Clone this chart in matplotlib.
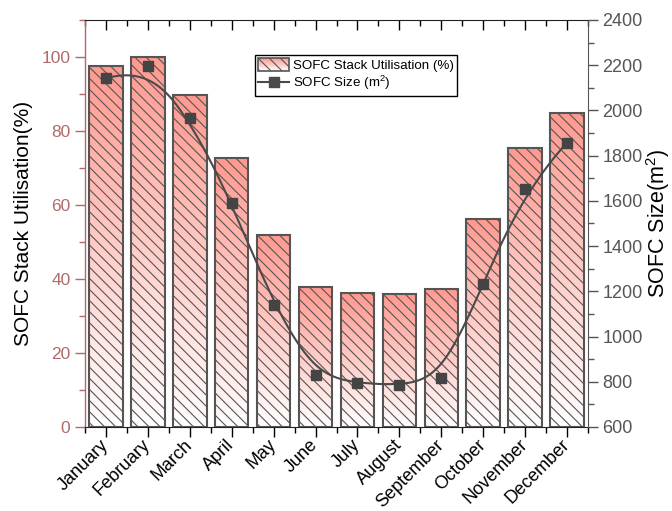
import numpy as np
import matplotlib
matplotlib.use("Agg")
import matplotlib.pyplot as plt
import matplotlib.transforms as mtransforms
from matplotlib.patches import Rectangle
from matplotlib.lines import Line2D
from matplotlib.legend_handler import HandlerBase
from matplotlib.ticker import MultipleLocator

plt.rcParams['font.family'] = ['Liberation Sans', 'DejaVu Sans']
plt.rcParams['hatch.linewidth'] = 0.8
plt.rcParams['mathtext.fontset'] = 'custom'
plt.rcParams['mathtext.rm'] = 'Liberation Sans'

months = ['January', 'February', 'March', 'April', 'May', 'June', 'July',
          'August', 'September', 'October', 'November', 'December']
utilisation = [97.6, 100.0, 89.8, 72.7, 51.9, 37.7, 36.2, 35.9, 37.3, 56.2, 75.3, 84.8]
sofc_size = [2142, 2195, 1968, 1590, 1139, 830, 794, 784, 817, 1232, 1652, 1858]

TOP_COL = np.array([1.0, 0.60, 0.56])
EDGE = '#555555'
AXIS_RED = '#b06a6a'
GREY = '#555555'


def bspline(ctrl, n_out=400, k=3):
    # clamped cubic B-spline using the data points as control points
    ctrl = np.asarray(ctrl, dtype=float)
    n = len(ctrl)
    knots = np.concatenate([np.zeros(k + 1), np.arange(1, n - k),
                            np.full(k + 1, n - k)]).astype(float)
    t = np.linspace(0, n - k, n_out)
    t[-1] -= 1e-9

    def basis(i, p, t):
        if p == 0:
            return ((knots[i] <= t) & (t < knots[i + 1])).astype(float)
        d1 = knots[i + p] - knots[i]
        d2 = knots[i + p + 1] - knots[i + 1]
        a = (t - knots[i]) / d1 * basis(i, p - 1, t) if d1 > 0 else 0
        b = (knots[i + p + 1] - t) / d2 * basis(i + 1, p - 1, t) if d2 > 0 else 0
        return a + b

    B = np.array([basis(i, k, t) for i in range(n)])
    return B.T @ ctrl


def gradient_img(n=256):
    f = np.linspace(0, 1, n)[:, None]  # 0 bottom, 1 top
    rgb = (1 - f) * np.ones(3) + f * TOP_COL
    return rgb[:, None, :]


class GradHandler(HandlerBase):
    def create_artists(self, legend, orig_handle, xdescent, ydescent,
                       width, height, fontsize, trans):
        arts = []
        nstep = 14
        for j in range(nstep):
            f = (j + 0.5) / nstep
            col = (1 - f) * np.ones(3) + f * TOP_COL
            arts.append(Rectangle((-xdescent, -ydescent + height * j / nstep),
                                  width, height / nstep + 0.3, facecolor=col,
                                  edgecolor='none', transform=trans))
        arts.append(Rectangle((-xdescent, -ydescent), width, height, fill=False,
                              hatch='\\\\\\', edgecolor=EDGE, lw=1.2,
                              transform=trans))
        return arts


fig = plt.figure(figsize=(6.72, 5.11), dpi=100)
ax = fig.add_axes([0.1265, 0.1644, 0.7485, 0.7965])
ax2 = ax.twinx()

x = np.arange(len(months))
width = 0.8
bars = ax.bar(x, utilisation, width, facecolor='none', edgecolor=EDGE,
              lw=1.5, hatch='\\\\\\', zorder=3)
img = gradient_img()
for b in bars:
    bx, by = b.get_x(), b.get_y()
    im = ax.imshow(img, extent=(bx, bx + b.get_width(), by, by + b.get_height()),
                   origin='lower', aspect='auto', zorder=2, interpolation='bilinear')
    im.set_clip_path(b)

ax.set_xlim(-0.5, 11.5)
ax.set_ylim(0, 110)
ax.set_xticks(x)
ax.set_xticklabels(months, rotation=45, ha='right', va='center',
                   rotation_mode='anchor', fontsize=13)
shift = mtransforms.ScaledTranslation(19 / 100, -10 / 100, fig.dpi_scale_trans)
for lbl in ax.get_xticklabels():
    lbl.set_transform(lbl.get_transform() + shift)
ax.xaxis.set_minor_locator(MultipleLocator(1, offset=0.5))
ax.yaxis.set_major_locator(MultipleLocator(20))
ax.yaxis.set_minor_locator(MultipleLocator(10))
ax.tick_params(axis='x', which='major', direction='out', length=7, width=1,
               top=True, pad=4)
ax.tick_params(axis='x', which='minor', direction='out', length=4, width=1,
               top=True)
ax.tick_params(axis='y', which='major', direction='out', length=7, width=1,
               colors=AXIS_RED, labelsize=12.5)
ax.tick_params(axis='y', which='minor', direction='out', length=4, width=1,
               colors=AXIS_RED)
ax.spines['left'].set_color(AXIS_RED)
ax.spines['left'].set_linewidth(1)
ax.spines['right'].set_visible(False)
ax.spines['top'].set_color('#222222')
ax.spines['bottom'].set_color('#222222')
ax.set_ylabel('SOFC Stack Utilisation(%)', fontsize=15, color='black')
ax.yaxis.set_label_coords(-0.103, 0.5)

# top ticks point inward
for t in ax.xaxis.get_major_ticks():
    t.tick2line.set_marker(matplotlib.markers.TICKDOWN)
for t in ax.xaxis.get_minor_ticks():
    t.tick2line.set_marker(matplotlib.markers.TICKDOWN)

xs = bspline(x)
ys = bspline(sofc_size)
ax2.plot(xs, ys, color='#4a4a4a', lw=1.5, zorder=4)
ax2.plot(x, sofc_size, 's', color='#444444', ms=6.5, zorder=5)
ax2.set_ylim(600, 2400)
ax2.yaxis.set_major_locator(MultipleLocator(200))
ax2.yaxis.set_minor_locator(MultipleLocator(100))
ax2.tick_params(axis='y', which='major', direction='out', length=7, width=1,
                colors=GREY, labelsize=13)
ax2.tick_params(axis='y', which='minor', direction='out', length=4, width=1,
                colors=GREY)
ax2.spines['right'].set_color(GREY)
ax2.spines['left'].set_visible(False)
ax2.spines['top'].set_visible(False)
ax2.spines['bottom'].set_visible(False)
ax2.set_ylabel('SOFC Size(m$^2$)', fontsize=15.5, color='black')
ax2.yaxis.set_label_coords(1.112, 0.5)

h1 = Rectangle((0, 0), 1, 1)
h2 = Line2D([], [], color='#4a4a4a', lw=1.5, marker='s', ms=6.5)
leg = ax2.legend([h1, h2], ['SOFC Stack Utilisation (%)', 'SOFC Size (m$^2$)'],
                 handler_map={Rectangle: GradHandler()},
                 loc='upper left', bbox_to_anchor=(0.338, 0.914),
                 prop={'size': 9.6}, frameon=True, fancybox=False,
                 edgecolor='black', framealpha=1, handlelength=2.3,
                 handleheight=1.1, borderpad=0.25, labelspacing=0.15,
                 handletextpad=0.3, borderaxespad=0)
leg.get_frame().set_linewidth(1)

fig.savefig('out.png', dpi=100)
